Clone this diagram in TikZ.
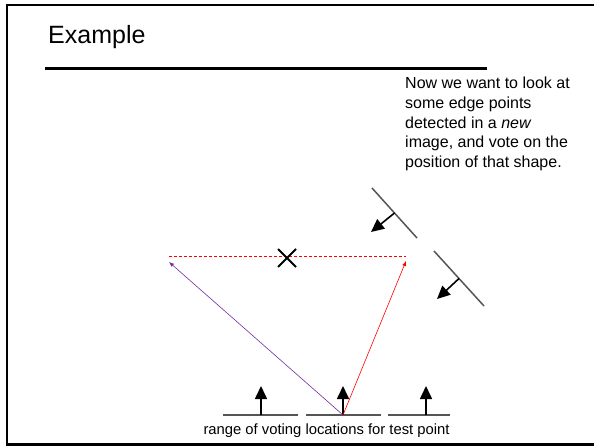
\documentclass[tikz,border=0pt]{standalone}
\usepackage{fontspec}
\setmainfont{Liberation Sans}
\usetikzlibrary{shapes,decorations}
\usetikzlibrary{calc}
\usetikzlibrary{positioning}
\usetikzlibrary{arrows.meta}
\usetikzlibrary{scopes}

\definecolor{votepurple}{RGB}{112,48,160}
\definecolor{edgegray}{RGB}{85,85,85}

\tikzset{
    frameline/.style={line width=2.5pt, line cap=rect},
    edgeline/.style={edgegray, line width=1.5pt},
    normalarrow/.style={line width=1.6pt, -{Triangle[length=13pt,width=12pt]}},
    votearrow/.style={line width=0.6pt, -{Latex[length=5pt,width=4pt]}},
    txt/.style={inner sep=0pt}
}

\begin{document}
\begin{tikzpicture}[x=1pt,y=-1pt]
\useasboundingbox (0,0) rectangle (594,447);
%
% slide frame and title
\draw[frameline] (594,5) -- (7,5) -- (7,444.5) -- (594,444.5);
\node[anchor=base west, inner sep=0pt, font=\fontsize{25}{30}\selectfont] (title) at (48,43) {Example};
\draw[line width=3pt] (45,68) coordinate (rulel) -- (487,68) coordinate (ruler);
%
\node[txt, anchor=north west, align=left, font=\fontsize{16}{19.7}\selectfont] (note) at (405,77)
    {Now we want to look at\\ some edge points\\ detected in a \textit{new}\\ image, and vote on the\\ position of that shape.};
%
% edge points of the new image
\coordinate (e1a) at (372,188); \coordinate (e1b) at (417,238);
\coordinate (e2a) at (434,251); \coordinate (e2b) at (484,306);
\draw[edgeline] (e1a) -- (e1b);
\draw[edgeline] (e2a) -- (e2b);
\coordinate (n1) at ($(e1a)!0.5!(e1b)$);
\coordinate (n2) at ($(e2a)!0.5!(e2b)$);
\draw[normalarrow] (n1) -- (371,232);
\draw[normalarrow] (n2) -- (437,299);
%
% test point with its range of votes
\foreach \x/\a/\b [count=\i] in {261/223/298, 343/306/381, 426/388/450}{
    \draw[edgeline] (\a,415) -- (\b,415);
    \coordinate (base\i) at (\x,415);
    \draw[normalarrow] (base\i) -- (\x,386);
}
\node[txt, anchor=base, font=\fontsize{14.8}{18}\selectfont] (range) at (326.5,434) {range of voting locations for test point};
%
% votes
\coordinate (vleft) at (169,262);
\coordinate (vright) at (406,261);
\draw[red, line width=0.7pt, dash pattern=on 3pt off 2pt] (169,256) -- (406,256);
\draw[votearrow, votepurple] (base2) -- (vleft);
\draw[votearrow, red] (base2) -- (vright);
%
\coordinate (cross) at (287,258);
\draw[line width=1.8pt] ($(cross)+(-9,-9)$) -- ($(cross)+(9,9)$)
    ($(cross)+(-9,9)$) -- ($(cross)+(9,-9)$);
\end{tikzpicture}
\end{document}
